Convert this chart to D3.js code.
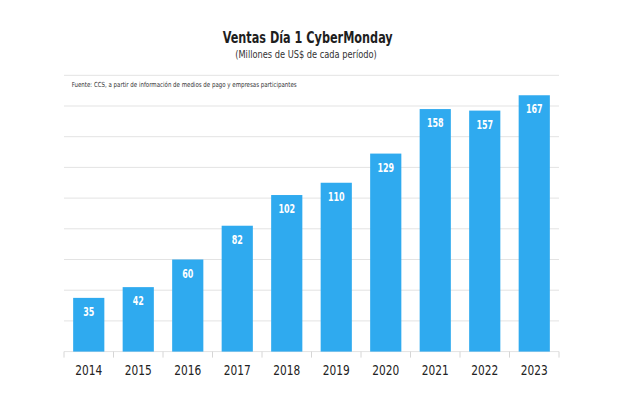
<!DOCTYPE html>
<html>
<head>
<meta charset="utf-8">
<script src="https://cdn.jsdelivr.net/npm/d3@7"></script>
<style>
  body { margin: 0; background: #fff; }
  text { font-family: "DejaVu Sans Condensed", "DejaVu Sans", sans-serif; }
</style>
</head>
<body>
<div id="chart"></div>
<script>
// data
var years = ["2014", "2015", "2016", "2017", "2018", "2019", "2020", "2021", "2022", "2023"];
var ventas = [35, 42, 60, 82, 102, 110, 129, 158, 157, 167];
var gridTicks = [0, 20, 40, 60, 80, 100, 120, 140, 160, 180];

var width = 618;
var height = 397;

// squeeze text horizontally to look like a condensed face
var squeeze = (f) => function () {
    var w = this.getComputedTextLength();
    d3.select(this)
        .attr('textLength', w * f)
        .attr('lengthAdjust', 'spacingAndGlyphs');
};

var svg = d3.select('#chart')
    .append('svg')
    .attr('width', width)
    .attr('height', height);

var xScale = d3.scaleBand()
    .domain(years)
    .range([64, 559])
    .paddingInner(0.37)
    .paddingOuter(0.185);

var yScale = d3.scaleLinear()
    .domain([0, 180])
    .range([351.6, 75.3]);

// gridlines
svg.append('g')
    .selectAll('line')
    .data(gridTicks)
    .enter()
    .append('line')
    .attr('x1', 64)
    .attr('x2', 559)
    .attr('y1', d => yScale(d))
    .attr('y2', d => yScale(d))
    .attr('stroke', '#e3e3e3')
    .attr('stroke-width', 1);

// bottom ticks at band edges
var edges = years.map(y => xScale(y) - xScale.step() * xScale.paddingInner() / 2);
edges.push(559);
svg.append('g')
    .selectAll('line')
    .data(edges)
    .enter()
    .append('line')
    .attr('x1', d => d)
    .attr('x2', d => d)
    .attr('y1', yScale(0))
    .attr('y2', yScale(0) + 6)
    .attr('stroke', '#d6d6d6');

// bars
svg.append('g')
    .selectAll('rect')
    .data(ventas)
    .enter()
    .append('rect')
    .attr('x', (d, i) => xScale(years[i]))
    .attr('y', d => yScale(d))
    .attr('width', xScale.bandwidth())
    .attr('height', d => yScale(0) - yScale(d))
    .attr('fill', '#2faaef');

// value labels
svg.append('g')
    .selectAll('text')
    .data(ventas)
    .enter()
    .append('text')
    .attr('x', (d, i) => xScale(years[i]) + xScale.bandwidth() / 2)
    .attr('y', d => yScale(d) + 18)
    .attr('text-anchor', 'middle')
    .attr('fill', '#fff')
    .attr('font-weight', 'bold')
    .attr('font-size', 12)
    .text(d => d)
    .each(squeeze(0.74));

// year labels
svg.append('g')
    .selectAll('text')
    .data(years)
    .enter()
    .append('text')
    .attr('x', d => xScale(d) + xScale.bandwidth() / 2)
    .attr('y', 375)
    .attr('text-anchor', 'middle')
    .attr('fill', '#222')
    .attr('font-size', 13.7)
    .text(d => d)
    .each(squeeze(0.86));

// titles
svg.append('text')
    .attr('x', 307.7)
    .attr('y', 42.7)
    .attr('text-anchor', 'middle')
    .attr('font-weight', 'bold')
    .attr('font-size', 16)
    .attr('fill', '#1e1e1e')
    .attr('textLength', 170)
    .attr('lengthAdjust', 'spacingAndGlyphs')
    .text('Ventas Día 1 CyberMonday');

svg.append('text')
    .attr('x', 306)
    .attr('y', 57.7)
    .attr('text-anchor', 'middle')
    .attr('font-size', 10.5)
    .attr('fill', '#333')
    .attr('textLength', 141.5)
    .attr('lengthAdjust', 'spacingAndGlyphs')
    .text('(Millones de US$ de cada período)');

svg.append('text')
    .attr('x', 71.7)
    .attr('y', 87.3)
    .attr('font-size', 7)
    .attr('fill', '#333')
    .attr('textLength', 225)
    .attr('lengthAdjust', 'spacingAndGlyphs')
    .text('Fuente: CCS, a partir de información de medios de pago y empresas participantes');
</script>
</body>
</html>
